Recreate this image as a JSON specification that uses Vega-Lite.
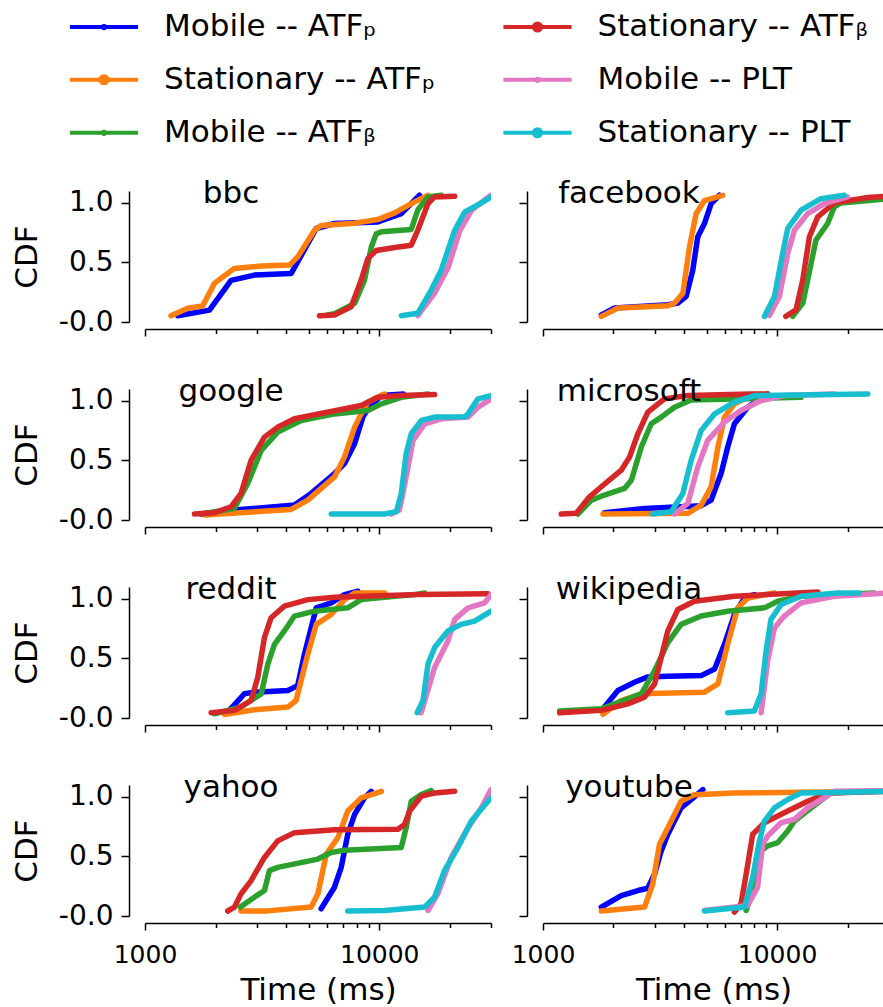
{
  "$schema": "https://vega.github.io/schema/vega-lite/v6.json",
  "padding": {"left": 11, "top": 9, "right": 0, "bottom": 0},
  "datasets": {
    "sites": [{"site": "bbc"}, {"site": "facebook"}, {"site": "google"}, {"site": "microsoft"}, {"site": "reddit"}, {"site": "wikipedia"}, {"site": "yahoo"}, {"site": "youtube"}],
    "curves": [
      {"site":"bbc","series":"Mobile -- ATFₚ","t":1379,"cdf":0.053},{"site":"bbc","series":"Mobile -- ATFₚ","t":1884,"cdf":0.10},{"site":"bbc","series":"Mobile -- ATFₚ","t":2330,"cdf":0.35},{"site":"bbc","series":"Mobile -- ATFₚ","t":2930,"cdf":0.394},{"site":"bbc","series":"Mobile -- ATFₚ","t":4209,"cdf":0.408},{"site":"bbc","series":"Mobile -- ATFₚ","t":5383,"cdf":0.785},{"site":"bbc","series":"Mobile -- ATFₚ","t":6440,"cdf":0.827},{"site":"bbc","series":"Mobile -- ATFₚ","t":9850,"cdf":0.84},{"site":"bbc","series":"Mobile -- ATFₚ","t":12420,"cdf":0.91},{"site":"bbc","series":"Mobile -- ATFₚ","t":14860,"cdf":1.064},
      {"site":"bbc","series":"Stationary -- ATFₚ","t":1291,"cdf":0.053},{"site":"bbc","series":"Stationary -- ATFₚ","t":1521,"cdf":0.115},{"site":"bbc","series":"Stationary -- ATFₚ","t":1763,"cdf":0.134},{"site":"bbc","series":"Stationary -- ATFₚ","t":1977,"cdf":0.324},{"site":"bbc","series":"Stationary -- ATFₚ","t":2405,"cdf":0.45},{"site":"bbc","series":"Stationary -- ATFₚ","t":3135,"cdf":0.47},{"site":"bbc","series":"Stationary -- ATFₚ","t":4140,"cdf":0.478},{"site":"bbc","series":"Stationary -- ATFₚ","t":4487,"cdf":0.547},{"site":"bbc","series":"Stationary -- ATFₚ","t":5293,"cdf":0.77},{"site":"bbc","series":"Stationary -- ATFₚ","t":5650,"cdf":0.81},{"site":"bbc","series":"Stationary -- ATFₚ","t":7850,"cdf":0.83},{"site":"bbc","series":"Stationary -- ATFₚ","t":9850,"cdf":0.86},{"site":"bbc","series":"Stationary -- ATFₚ","t":11640,"cdf":0.916},{"site":"bbc","series":"Stationary -- ATFₚ","t":13700,"cdf":0.994},{"site":"bbc","series":"Stationary -- ATFₚ","t":16150,"cdf":1.064},
      {"site":"bbc","series":"Mobile -- ATFᵦ","t":6000,"cdf":0.06},{"site":"bbc","series":"Mobile -- ATFᵦ","t":6440,"cdf":0.07},{"site":"bbc","series":"Mobile -- ATFᵦ","t":7850,"cdf":0.156},{"site":"bbc","series":"Mobile -- ATFᵦ","t":8650,"cdf":0.352},{"site":"bbc","series":"Mobile -- ATFᵦ","t":9250,"cdf":0.63},{"site":"bbc","series":"Mobile -- ATFᵦ","t":9700,"cdf":0.74},{"site":"bbc","series":"Mobile -- ATFᵦ","t":10200,"cdf":0.757},{"site":"bbc","series":"Mobile -- ATFᵦ","t":13700,"cdf":0.777},{"site":"bbc","series":"Mobile -- ATFᵦ","t":14600,"cdf":0.94},{"site":"bbc","series":"Mobile -- ATFᵦ","t":16150,"cdf":1.05},{"site":"bbc","series":"Mobile -- ATFᵦ","t":18400,"cdf":1.064},
      {"site":"bbc","series":"Stationary -- ATFᵦ","t":5557,"cdf":0.053},{"site":"bbc","series":"Stationary -- ATFᵦ","t":6440,"cdf":0.059},{"site":"bbc","series":"Stationary -- ATFᵦ","t":7590,"cdf":0.128},{"site":"bbc","series":"Stationary -- ATFᵦ","t":8375,"cdf":0.352},{"site":"bbc","series":"Stationary -- ATFᵦ","t":8950,"cdf":0.534},{"site":"bbc","series":"Stationary -- ATFᵦ","t":9700,"cdf":0.60},{"site":"bbc","series":"Stationary -- ATFᵦ","t":11640,"cdf":0.626},{"site":"bbc","series":"Stationary -- ATFᵦ","t":13700,"cdf":0.645},{"site":"bbc","series":"Stationary -- ATFᵦ","t":14600,"cdf":0.77},{"site":"bbc","series":"Stationary -- ATFᵦ","t":16150,"cdf":0.994},{"site":"bbc","series":"Stationary -- ATFᵦ","t":17200,"cdf":1.05},{"site":"bbc","series":"Stationary -- ATFᵦ","t":20990,"cdf":1.056},
      {"site":"bbc","series":"Mobile -- PLT","t":14600,"cdf":0.053},{"site":"bbc","series":"Mobile -- PLT","t":17200,"cdf":0.24},{"site":"bbc","series":"Mobile -- PLT","t":19700,"cdf":0.46},{"site":"bbc","series":"Mobile -- PLT","t":22100,"cdf":0.77},{"site":"bbc","series":"Mobile -- PLT","t":24800,"cdf":0.94},{"site":"bbc","series":"Mobile -- PLT","t":30000,"cdf":1.064},
      {"site":"bbc","series":"Stationary -- PLT","t":12420,"cdf":0.053},{"site":"bbc","series":"Stationary -- PLT","t":14600,"cdf":0.073},{"site":"bbc","series":"Stationary -- PLT","t":16670,"cdf":0.268},{"site":"bbc","series":"Stationary -- PLT","t":18400,"cdf":0.436},{"site":"bbc","series":"Stationary -- PLT","t":20990,"cdf":0.77},{"site":"bbc","series":"Stationary -- PLT","t":23200,"cdf":0.925},{"site":"bbc","series":"Stationary -- PLT","t":27300,"cdf":1.0},{"site":"bbc","series":"Stationary -- PLT","t":30000,"cdf":1.05},

      {"site":"facebook","series":"Mobile -- ATFₚ","t":1775,"cdf":0.06},{"site":"facebook","series":"Mobile -- ATFₚ","t":2023,"cdf":0.117},{"site":"facebook","series":"Mobile -- ATFₚ","t":3415,"cdf":0.145},{"site":"facebook","series":"Mobile -- ATFₚ","t":3767,"cdf":0.159},{"site":"facebook","series":"Mobile -- ATFₚ","t":4090,"cdf":0.215},{"site":"facebook","series":"Mobile -- ATFₚ","t":4366,"cdf":0.437},{"site":"facebook","series":"Mobile -- ATFₚ","t":4584,"cdf":0.716},{"site":"facebook","series":"Mobile -- ATFₚ","t":4896,"cdf":0.827},{"site":"facebook","series":"Mobile -- ATFₚ","t":5228,"cdf":0.994},{"site":"facebook","series":"Mobile -- ATFₚ","t":5675,"cdf":1.064},
      {"site":"facebook","series":"Stationary -- ATFₚ","t":1775,"cdf":0.047},{"site":"facebook","series":"Stationary -- ATFₚ","t":2090,"cdf":0.117},{"site":"facebook","series":"Stationary -- ATFₚ","t":3415,"cdf":0.136},{"site":"facebook","series":"Stationary -- ATFₚ","t":3650,"cdf":0.159},{"site":"facebook","series":"Stationary -- ATFₚ","t":3960,"cdf":0.242},{"site":"facebook","series":"Stationary -- ATFₚ","t":4227,"cdf":0.632},{"site":"facebook","series":"Stationary -- ATFₚ","t":4510,"cdf":0.91},{"site":"facebook","series":"Stationary -- ATFₚ","t":4896,"cdf":1.02},{"site":"facebook","series":"Stationary -- ATFₚ","t":5860,"cdf":1.064},
      {"site":"facebook","series":"Mobile -- ATFᵦ","t":11660,"cdf":0.047},{"site":"facebook","series":"Mobile -- ATFᵦ","t":12880,"cdf":0.159},{"site":"facebook","series":"Mobile -- ATFᵦ","t":13520,"cdf":0.354},{"site":"facebook","series":"Mobile -- ATFᵦ","t":14660,"cdf":0.688},{"site":"facebook","series":"Mobile -- ATFᵦ","t":16450,"cdf":0.827},{"site":"facebook","series":"Mobile -- ATFᵦ","t":17570,"cdf":0.967},{"site":"facebook","series":"Mobile -- ATFᵦ","t":18750,"cdf":1.0},{"site":"facebook","series":"Mobile -- ATFᵦ","t":30000,"cdf":1.036},
      {"site":"facebook","series":"Stationary -- ATFᵦ","t":10900,"cdf":0.047},{"site":"facebook","series":"Stationary -- ATFᵦ","t":12050,"cdf":0.103},{"site":"facebook","series":"Stationary -- ATFᵦ","t":12880,"cdf":0.354},{"site":"facebook","series":"Stationary -- ATFᵦ","t":13750,"cdf":0.716},{"site":"facebook","series":"Stationary -- ATFᵦ","t":14920,"cdf":0.883},{"site":"facebook","series":"Stationary -- ATFᵦ","t":16450,"cdf":0.953},{"site":"facebook","series":"Stationary -- ATFᵦ","t":17570,"cdf":1.0},{"site":"facebook","series":"Stationary -- ATFᵦ","t":24400,"cdf":1.045},{"site":"facebook","series":"Stationary -- ATFᵦ","t":30000,"cdf":1.056},
      {"site":"facebook","series":"Mobile -- PLT","t":9270,"cdf":0.055},{"site":"facebook","series":"Mobile -- PLT","t":10230,"cdf":0.215},{"site":"facebook","series":"Mobile -- PLT","t":11110,"cdf":0.577},{"site":"facebook","series":"Mobile -- PLT","t":11860,"cdf":0.77},{"site":"facebook","series":"Mobile -- PLT","t":13520,"cdf":0.91},{"site":"facebook","series":"Mobile -- PLT","t":15920,"cdf":0.994},{"site":"facebook","series":"Mobile -- PLT","t":20000,"cdf":1.05},
      {"site":"facebook","series":"Stationary -- PLT","t":8830,"cdf":0.047},{"site":"facebook","series":"Stationary -- PLT","t":9750,"cdf":0.215},{"site":"facebook","series":"Stationary -- PLT","t":10570,"cdf":0.577},{"site":"facebook","series":"Stationary -- PLT","t":11110,"cdf":0.786},{"site":"facebook","series":"Stationary -- PLT","t":12660,"cdf":0.94},{"site":"facebook","series":"Stationary -- PLT","t":15400,"cdf":1.036},{"site":"facebook","series":"Stationary -- PLT","t":19370,"cdf":1.064},

      {"site":"google","series":"Mobile -- ATFₚ","t":1735,"cdf":0.05},{"site":"google","series":"Mobile -- ATFₚ","t":2405,"cdf":0.084},{"site":"google","series":"Mobile -- ATFₚ","t":4345,"cdf":0.125},{"site":"google","series":"Mobile -- ATFₚ","t":5120,"cdf":0.223},{"site":"google","series":"Mobile -- ATFₚ","t":6440,"cdf":0.39},{"site":"google","series":"Mobile -- ATFₚ","t":7110,"cdf":0.474},{"site":"google","series":"Mobile -- ATFₚ","t":7850,"cdf":0.64},{"site":"google","series":"Mobile -- ATFₚ","t":8510,"cdf":0.864},{"site":"google","series":"Mobile -- ATFₚ","t":8950,"cdf":0.933},{"site":"google","series":"Mobile -- ATFₚ","t":10200,"cdf":1.045},{"site":"google","series":"Mobile -- ATFₚ","t":12700,"cdf":1.058},
      {"site":"google","series":"Stationary -- ATFₚ","t":1795,"cdf":0.042},{"site":"google","series":"Stationary -- ATFₚ","t":4210,"cdf":0.089},{"site":"google","series":"Stationary -- ATFₚ","t":4955,"cdf":0.167},{"site":"google","series":"Stationary -- ATFₚ","t":6440,"cdf":0.362},{"site":"google","series":"Stationary -- ATFₚ","t":7110,"cdf":0.53},{"site":"google","series":"Stationary -- ATFₚ","t":7850,"cdf":0.78},{"site":"google","series":"Stationary -- ATFₚ","t":8375,"cdf":0.891},{"site":"google","series":"Stationary -- ATFₚ","t":8950,"cdf":0.99},{"site":"google","series":"Stationary -- ATFₚ","t":10540,"cdf":1.058},
      {"site":"google","series":"Mobile -- ATFᵦ","t":1735,"cdf":0.05},{"site":"google","series":"Mobile -- ATFᵦ","t":2405,"cdf":0.097},{"site":"google","series":"Mobile -- ATFᵦ","t":2745,"cdf":0.306},{"site":"google","series":"Mobile -- ATFᵦ","t":3135,"cdf":0.585},{"site":"google","series":"Mobile -- ATFᵦ","t":3686,"cdf":0.738},{"site":"google","series":"Mobile -- ATFᵦ","t":4642,"cdf":0.836},{"site":"google","series":"Mobile -- ATFᵦ","t":6440,"cdf":0.891},{"site":"google","series":"Mobile -- ATFᵦ","t":8950,"cdf":0.919},{"site":"google","series":"Mobile -- ATFᵦ","t":10200,"cdf":0.975},{"site":"google","series":"Mobile -- ATFᵦ","t":12420,"cdf":1.03},{"site":"google","series":"Mobile -- ATFᵦ","t":16150,"cdf":1.058},
      {"site":"google","series":"Stationary -- ATFᵦ","t":1625,"cdf":0.05},{"site":"google","series":"Stationary -- ATFᵦ","t":1977,"cdf":0.061},{"site":"google","series":"Stationary -- ATFᵦ","t":2330,"cdf":0.111},{"site":"google","series":"Stationary -- ATFᵦ","t":2570,"cdf":0.223},{"site":"google","series":"Stationary -- ATFᵦ","t":2837,"cdf":0.501},{"site":"google","series":"Stationary -- ATFᵦ","t":3235,"cdf":0.696},{"site":"google","series":"Stationary -- ATFᵦ","t":3686,"cdf":0.78},{"site":"google","series":"Stationary -- ATFᵦ","t":4345,"cdf":0.85},{"site":"google","series":"Stationary -- ATFᵦ","t":6000,"cdf":0.905},{"site":"google","series":"Stationary -- ATFᵦ","t":8375,"cdf":0.961},{"site":"google","series":"Stationary -- ATFᵦ","t":9850,"cdf":1.03},{"site":"google","series":"Stationary -- ATFᵦ","t":12420,"cdf":1.045},{"site":"google","series":"Stationary -- ATFᵦ","t":17220,"cdf":1.053},
      {"site":"google","series":"Mobile -- PLT","t":11260,"cdf":0.05},{"site":"google","series":"Mobile -- PLT","t":12200,"cdf":0.084},{"site":"google","series":"Mobile -- PLT","t":13030,"cdf":0.362},{"site":"google","series":"Mobile -- PLT","t":13930,"cdf":0.668},{"site":"google","series":"Mobile -- PLT","t":15660,"cdf":0.808},{"site":"google","series":"Mobile -- PLT","t":18400,"cdf":0.85},{"site":"google","series":"Mobile -- PLT","t":23950,"cdf":0.864},{"site":"google","series":"Mobile -- PLT","t":26400,"cdf":0.947},{"site":"google","series":"Mobile -- PLT","t":30000,"cdf":1.017},
      {"site":"google","series":"Stationary -- PLT","t":6240,"cdf":0.05},{"site":"google","series":"Stationary -- PLT","t":10540,"cdf":0.05},{"site":"google","series":"Stationary -- PLT","t":11840,"cdf":0.07},{"site":"google","series":"Stationary -- PLT","t":12420,"cdf":0.223},{"site":"google","series":"Stationary -- PLT","t":13030,"cdf":0.557},{"site":"google","series":"Stationary -- PLT","t":13700,"cdf":0.724},{"site":"google","series":"Stationary -- PLT","t":15140,"cdf":0.836},{"site":"google","series":"Stationary -- PLT","t":17200,"cdf":0.864},{"site":"google","series":"Stationary -- PLT","t":23200,"cdf":0.866},{"site":"google","series":"Stationary -- PLT","t":23950,"cdf":0.891},{"site":"google","series":"Stationary -- PLT","t":26400,"cdf":1.017},{"site":"google","series":"Stationary -- PLT","t":30000,"cdf":1.045},

      {"site":"microsoft","series":"Mobile -- ATFₚ","t":1832,"cdf":0.061},{"site":"microsoft","series":"Mobile -- ATFₚ","t":2716,"cdf":0.097},{"site":"microsoft","series":"Mobile -- ATFₚ","t":4740,"cdf":0.12},{"site":"microsoft","series":"Mobile -- ATFₚ","t":5230,"cdf":0.167},{"site":"microsoft","series":"Mobile -- ATFₚ","t":5765,"cdf":0.39},{"site":"microsoft","series":"Mobile -- ATFₚ","t":6155,"cdf":0.613},{"site":"microsoft","series":"Mobile -- ATFₚ","t":6575,"cdf":0.808},{"site":"microsoft","series":"Mobile -- ATFₚ","t":7495,"cdf":0.947},{"site":"microsoft","series":"Mobile -- ATFₚ","t":8545,"cdf":1.03},{"site":"microsoft","series":"Mobile -- ATFₚ","t":9120,"cdf":1.058},
      {"site":"microsoft","series":"Stationary -- ATFₚ","t":1803,"cdf":0.05},{"site":"microsoft","series":"Stationary -- ATFₚ","t":4155,"cdf":0.056},{"site":"microsoft","series":"Stationary -- ATFₚ","t":4740,"cdf":0.125},{"site":"microsoft","series":"Stationary -- ATFₚ","t":5230,"cdf":0.279},{"site":"microsoft","series":"Stationary -- ATFₚ","t":5590,"cdf":0.613},{"site":"microsoft","series":"Stationary -- ATFₚ","t":5960,"cdf":0.864},{"site":"microsoft","series":"Stationary -- ATFₚ","t":6575,"cdf":0.975},{"site":"microsoft","series":"Stationary -- ATFₚ","t":7495,"cdf":1.03},{"site":"microsoft","series":"Stationary -- ATFₚ","t":8545,"cdf":1.058},
      {"site":"microsoft","series":"Mobile -- ATFᵦ","t":1410,"cdf":0.05},{"site":"microsoft","series":"Mobile -- ATFᵦ","t":1610,"cdf":0.167},{"site":"microsoft","series":"Mobile -- ATFᵦ","t":1775,"cdf":0.2},{"site":"microsoft","series":"Mobile -- ATFᵦ","t":2230,"cdf":0.265},{"site":"microsoft","series":"Mobile -- ATFᵦ","t":2385,"cdf":0.334},{"site":"microsoft","series":"Mobile -- ATFᵦ","t":2630,"cdf":0.613},{"site":"microsoft","series":"Mobile -- ATFᵦ","t":2900,"cdf":0.808},{"site":"microsoft","series":"Mobile -- ATFᵦ","t":3200,"cdf":0.864},{"site":"microsoft","series":"Mobile -- ATFᵦ","t":3645,"cdf":0.947},{"site":"microsoft","series":"Mobile -- ATFᵦ","t":4295,"cdf":1.008},{"site":"microsoft","series":"Mobile -- ATFᵦ","t":6580,"cdf":1.017},{"site":"microsoft","series":"Mobile -- ATFᵦ","t":12650,"cdf":1.03},
      {"site":"microsoft","series":"Stationary -- ATFᵦ","t":1197,"cdf":0.05},{"site":"microsoft","series":"Stationary -- ATFᵦ","t":1387,"cdf":0.056},{"site":"microsoft","series":"Stationary -- ATFᵦ","t":1580,"cdf":0.195},{"site":"microsoft","series":"Stationary -- ATFᵦ","t":1775,"cdf":0.279},{"site":"microsoft","series":"Stationary -- ATFᵦ","t":2160,"cdf":0.418},{"site":"microsoft","series":"Stationary -- ATFᵦ","t":2345,"cdf":0.53},{"site":"microsoft","series":"Stationary -- ATFᵦ","t":2543,"cdf":0.724},{"site":"microsoft","series":"Stationary -- ATFᵦ","t":2804,"cdf":0.905},{"site":"microsoft","series":"Stationary -- ATFᵦ","t":3303,"cdf":1.017},{"site":"microsoft","series":"Stationary -- ATFᵦ","t":4155,"cdf":1.045},{"site":"microsoft","series":"Stationary -- ATFᵦ","t":7740,"cdf":1.058},{"site":"microsoft","series":"Stationary -- ATFᵦ","t":9120,"cdf":1.058},
      {"site":"microsoft","series":"Mobile -- PLT","t":3645,"cdf":0.05},{"site":"microsoft","series":"Mobile -- PLT","t":4155,"cdf":0.139},{"site":"microsoft","series":"Mobile -- PLT","t":4585,"cdf":0.446},{"site":"microsoft","series":"Mobile -- PLT","t":5055,"cdf":0.668},{"site":"microsoft","series":"Mobile -- PLT","t":5960,"cdf":0.822},{"site":"microsoft","series":"Mobile -- PLT","t":7015,"cdf":0.919},{"site":"microsoft","series":"Mobile -- PLT","t":8545,"cdf":1.003},{"site":"microsoft","series":"Mobile -- PLT","t":10740,"cdf":1.045},{"site":"microsoft","series":"Mobile -- PLT","t":17570,"cdf":1.058},
      {"site":"microsoft","series":"Stationary -- PLT","t":2944,"cdf":0.05},{"site":"microsoft","series":"Stationary -- PLT","t":3530,"cdf":0.07},{"site":"microsoft","series":"Stationary -- PLT","t":3960,"cdf":0.223},{"site":"microsoft","series":"Stationary -- PLT","t":4295,"cdf":0.501},{"site":"microsoft","series":"Stationary -- PLT","t":4740,"cdf":0.752},{"site":"microsoft","series":"Stationary -- PLT","t":5410,"cdf":0.891},{"site":"microsoft","series":"Stationary -- PLT","t":6575,"cdf":0.989},{"site":"microsoft","series":"Stationary -- PLT","t":8000,"cdf":1.045},{"site":"microsoft","series":"Stationary -- PLT","t":24400,"cdf":1.058},

      {"site":"reddit","series":"Mobile -- ATFₚ","t":2254,"cdf":0.05},{"site":"reddit","series":"Mobile -- ATFₚ","t":2655,"cdf":0.203},{"site":"reddit","series":"Mobile -- ATFₚ","t":2930,"cdf":0.217},{"site":"reddit","series":"Mobile -- ATFₚ","t":4070,"cdf":0.231},{"site":"reddit","series":"Mobile -- ATFₚ","t":4487,"cdf":0.272},{"site":"reddit","series":"Mobile -- ATFₚ","t":4795,"cdf":0.536},{"site":"reddit","series":"Mobile -- ATFₚ","t":5383,"cdf":0.925},{"site":"reddit","series":"Mobile -- ATFₚ","t":6235,"cdf":0.967},{"site":"reddit","series":"Mobile -- ATFₚ","t":7110,"cdf":1.036},{"site":"reddit","series":"Mobile -- ATFₚ","t":8110,"cdf":1.064},
      {"site":"reddit","series":"Stationary -- ATFₚ","t":2183,"cdf":0.03},{"site":"reddit","series":"Stationary -- ATFₚ","t":2930,"cdf":0.069},{"site":"reddit","series":"Stationary -- ATFₚ","t":4070,"cdf":0.092},{"site":"reddit","series":"Stationary -- ATFₚ","t":4415,"cdf":0.147},{"site":"reddit","series":"Stationary -- ATFₚ","t":4955,"cdf":0.536},{"site":"reddit","series":"Stationary -- ATFₚ","t":5383,"cdf":0.786},{"site":"reddit","series":"Stationary -- ATFₚ","t":6235,"cdf":0.869},{"site":"reddit","series":"Stationary -- ATFₚ","t":7110,"cdf":0.994},{"site":"reddit","series":"Stationary -- ATFₚ","t":7850,"cdf":1.05},{"site":"reddit","series":"Stationary -- ATFₚ","t":10540,"cdf":1.05},
      {"site":"reddit","series":"Mobile -- ATFᵦ","t":1977,"cdf":0.036},{"site":"reddit","series":"Mobile -- ATFᵦ","t":2570,"cdf":0.092},{"site":"reddit","series":"Mobile -- ATFᵦ","t":3135,"cdf":0.203},{"site":"reddit","series":"Mobile -- ATFᵦ","t":3345,"cdf":0.453},{"site":"reddit","series":"Mobile -- ATFᵦ","t":3570,"cdf":0.619},{"site":"reddit","series":"Mobile -- ATFᵦ","t":3935,"cdf":0.731},{"site":"reddit","series":"Mobile -- ATFᵦ","t":4345,"cdf":0.856},{"site":"reddit","series":"Mobile -- ATFᵦ","t":5293,"cdf":0.897},{"site":"reddit","series":"Mobile -- ATFᵦ","t":7340,"cdf":0.925},{"site":"reddit","series":"Mobile -- ATFᵦ","t":8375,"cdf":0.994},{"site":"reddit","series":"Mobile -- ATFᵦ","t":10540,"cdf":1.014},{"site":"reddit","series":"Mobile -- ATFᵦ","t":14170,"cdf":1.036},{"site":"reddit","series":"Mobile -- ATFᵦ","t":15630,"cdf":1.05},
      {"site":"reddit","series":"Stationary -- ATFᵦ","t":1915,"cdf":0.044},{"site":"reddit","series":"Stationary -- ATFᵦ","t":2410,"cdf":0.064},{"site":"reddit","series":"Stationary -- ATFᵦ","t":2838,"cdf":0.147},{"site":"reddit","series":"Stationary -- ATFᵦ","t":3030,"cdf":0.342},{"site":"reddit","series":"Stationary -- ATFᵦ","t":3235,"cdf":0.675},{"site":"reddit","series":"Stationary -- ATFᵦ","t":3455,"cdf":0.842},{"site":"reddit","series":"Stationary -- ATFᵦ","t":3935,"cdf":0.939},{"site":"reddit","series":"Stationary -- ATFᵦ","t":4955,"cdf":0.994},{"site":"reddit","series":"Stationary -- ATFᵦ","t":6440,"cdf":1.014},{"site":"reddit","series":"Stationary -- ATFᵦ","t":14600,"cdf":1.036},{"site":"reddit","series":"Stationary -- ATFᵦ","t":29100,"cdf":1.044},
      {"site":"reddit","series":"Mobile -- PLT","t":15100,"cdf":0.044},{"site":"reddit","series":"Mobile -- PLT","t":17230,"cdf":0.425},{"site":"reddit","series":"Mobile -- PLT","t":19630,"cdf":0.647},{"site":"reddit","series":"Mobile -- PLT","t":21000,"cdf":0.828},{"site":"reddit","series":"Mobile -- PLT","t":23950,"cdf":0.925},{"site":"reddit","series":"Mobile -- PLT","t":28190,"cdf":0.967},{"site":"reddit","series":"Mobile -- PLT","t":30000,"cdf":1.036},
      {"site":"reddit","series":"Stationary -- PLT","t":14520,"cdf":0.044},{"site":"reddit","series":"Stationary -- PLT","t":15380,"cdf":0.147},{"site":"reddit","series":"Stationary -- PLT","t":16150,"cdf":0.453},{"site":"reddit","series":"Stationary -- PLT","t":17230,"cdf":0.592},{"site":"reddit","series":"Stationary -- PLT","t":19630,"cdf":0.731},{"site":"reddit","series":"Stationary -- PLT","t":22390,"cdf":0.786},{"site":"reddit","series":"Stationary -- PLT","t":25530,"cdf":0.814},{"site":"reddit","series":"Stationary -- PLT","t":30000,"cdf":0.897},

      {"site":"wikipedia","series":"Mobile -- ATFₚ","t":1803,"cdf":0.078},{"site":"wikipedia","series":"Mobile -- ATFₚ","t":2090,"cdf":0.231},{"site":"wikipedia","series":"Mobile -- ATFₚ","t":2460,"cdf":0.3},{"site":"wikipedia","series":"Mobile -- ATFₚ","t":2804,"cdf":0.345},{"site":"wikipedia","series":"Mobile -- ATFₚ","t":3415,"cdf":0.35},{"site":"wikipedia","series":"Mobile -- ATFₚ","t":4740,"cdf":0.356},{"site":"wikipedia","series":"Mobile -- ATFₚ","t":5410,"cdf":0.411},{"site":"wikipedia","series":"Mobile -- ATFₚ","t":5960,"cdf":0.619},{"site":"wikipedia","series":"Mobile -- ATFₚ","t":6575,"cdf":0.869},{"site":"wikipedia","series":"Mobile -- ATFₚ","t":7260,"cdf":1.008},{"site":"wikipedia","series":"Mobile -- ATFₚ","t":8000,"cdf":1.036},
      {"site":"wikipedia","series":"Stationary -- ATFₚ","t":1803,"cdf":0.03},{"site":"wikipedia","series":"Stationary -- ATFₚ","t":2160,"cdf":0.147},{"site":"wikipedia","series":"Stationary -- ATFₚ","t":2630,"cdf":0.203},{"site":"wikipedia","series":"Stationary -- ATFₚ","t":3200,"cdf":0.208},{"site":"wikipedia","series":"Stationary -- ATFₚ","t":4895,"cdf":0.217},{"site":"wikipedia","series":"Stationary -- ATFₚ","t":5590,"cdf":0.286},{"site":"wikipedia","series":"Stationary -- ATFₚ","t":6150,"cdf":0.619},{"site":"wikipedia","series":"Stationary -- ATFₚ","t":6790,"cdf":0.925},{"site":"wikipedia","series":"Stationary -- ATFₚ","t":7495,"cdf":1.008},{"site":"wikipedia","series":"Stationary -- ATFₚ","t":9750,"cdf":1.05},
      {"site":"wikipedia","series":"Mobile -- ATFᵦ","t":1178,"cdf":0.058},{"site":"wikipedia","series":"Mobile -- ATFᵦ","t":1775,"cdf":0.078},{"site":"wikipedia","series":"Mobile -- ATFᵦ","t":2630,"cdf":0.203},{"site":"wikipedia","series":"Mobile -- ATFᵦ","t":2999,"cdf":0.397},{"site":"wikipedia","series":"Mobile -- ATFᵦ","t":3415,"cdf":0.633},{"site":"wikipedia","series":"Mobile -- ATFᵦ","t":3890,"cdf":0.786},{"site":"wikipedia","series":"Mobile -- ATFᵦ","t":4740,"cdf":0.856},{"site":"wikipedia","series":"Mobile -- ATFᵦ","t":6150,"cdf":0.897},{"site":"wikipedia","series":"Mobile -- ATFᵦ","t":8830,"cdf":0.925},{"site":"wikipedia","series":"Mobile -- ATFᵦ","t":10070,"cdf":0.981},{"site":"wikipedia","series":"Mobile -- ATFᵦ","t":12650,"cdf":1.022},{"site":"wikipedia","series":"Mobile -- ATFᵦ","t":26000,"cdf":1.05},
      {"site":"wikipedia","series":"Stationary -- ATFᵦ","t":1178,"cdf":0.044},{"site":"wikipedia","series":"Stationary -- ATFᵦ","t":1775,"cdf":0.064},{"site":"wikipedia","series":"Stationary -- ATFᵦ","t":2305,"cdf":0.119},{"site":"wikipedia","series":"Stationary -- ATFᵦ","t":2716,"cdf":0.175},{"site":"wikipedia","series":"Stationary -- ATFᵦ","t":2999,"cdf":0.286},{"site":"wikipedia","series":"Stationary -- ATFᵦ","t":3200,"cdf":0.508},{"site":"wikipedia","series":"Stationary -- ATFᵦ","t":3415,"cdf":0.731},{"site":"wikipedia","series":"Stationary -- ATFᵦ","t":3767,"cdf":0.911},{"site":"wikipedia","series":"Stationary -- ATFᵦ","t":4435,"cdf":0.981},{"site":"wikipedia","series":"Stationary -- ATFᵦ","t":6575,"cdf":1.022},{"site":"wikipedia","series":"Stationary -- ATFᵦ","t":14930,"cdf":1.058},
      {"site":"wikipedia","series":"Mobile -- PLT","t":8550,"cdf":0.044},{"site":"wikipedia","series":"Mobile -- PLT","t":9120,"cdf":0.481},{"site":"wikipedia","series":"Mobile -- PLT","t":9750,"cdf":0.758},{"site":"wikipedia","series":"Mobile -- PLT","t":10740,"cdf":0.856},{"site":"wikipedia","series":"Mobile -- PLT","t":12650,"cdf":0.967},{"site":"wikipedia","series":"Mobile -- PLT","t":17570,"cdf":1.022},{"site":"wikipedia","series":"Mobile -- PLT","t":30000,"cdf":1.05},
      {"site":"wikipedia","series":"Stationary -- PLT","t":6150,"cdf":0.044},{"site":"wikipedia","series":"Stationary -- PLT","t":8000,"cdf":0.058},{"site":"wikipedia","series":"Stationary -- PLT","t":8550,"cdf":0.203},{"site":"wikipedia","series":"Stationary -- PLT","t":8980,"cdf":0.564},{"site":"wikipedia","series":"Stationary -- PLT","t":9420,"cdf":0.828},{"site":"wikipedia","series":"Stationary -- PLT","t":10400,"cdf":0.953},{"site":"wikipedia","series":"Stationary -- PLT","t":12650,"cdf":1.022},{"site":"wikipedia","series":"Stationary -- PLT","t":18150,"cdf":1.05},{"site":"wikipedia","series":"Stationary -- PLT","t":22430,"cdf":1.05},

      {"site":"yahoo","series":"Mobile -- ATFₚ","t":5650,"cdf":0.061},{"site":"yahoo","series":"Mobile -- ATFₚ","t":6440,"cdf":0.242},{"site":"yahoo","series":"Mobile -- ATFₚ","t":6880,"cdf":0.408},{"site":"yahoo","series":"Mobile -- ATFₚ","t":7340,"cdf":0.686},{"site":"yahoo","series":"Mobile -- ATFₚ","t":7850,"cdf":0.853},{"site":"yahoo","series":"Mobile -- ATFₚ","t":8650,"cdf":0.992},{"site":"yahoo","series":"Mobile -- ATFₚ","t":9250,"cdf":1.047},
      {"site":"yahoo","series":"Stationary -- ATFₚ","t":2570,"cdf":0.042},{"site":"yahoo","series":"Stationary -- ATFₚ","t":3340,"cdf":0.043},{"site":"yahoo","series":"Stationary -- ATFₚ","t":5120,"cdf":0.075},{"site":"yahoo","series":"Stationary -- ATFₚ","t":5470,"cdf":0.186},{"site":"yahoo","series":"Stationary -- ATFₚ","t":5940,"cdf":0.519},{"site":"yahoo","series":"Stationary -- ATFₚ","t":6660,"cdf":0.658},{"site":"yahoo","series":"Stationary -- ATFₚ","t":7340,"cdf":0.881},{"site":"yahoo","series":"Stationary -- ATFₚ","t":8375,"cdf":0.992},{"site":"yahoo","series":"Stationary -- ATFₚ","t":10210,"cdf":1.047},
      {"site":"yahoo","series":"Mobile -- ATFᵦ","t":2553,"cdf":0.075},{"site":"yahoo","series":"Mobile -- ATFᵦ","t":2930,"cdf":0.158},{"site":"yahoo","series":"Mobile -- ATFᵦ","t":3235,"cdf":0.214},{"site":"yahoo","series":"Mobile -- ATFᵦ","t":3398,"cdf":0.381},{"site":"yahoo","series":"Mobile -- ATFᵦ","t":3686,"cdf":0.408},{"site":"yahoo","series":"Mobile -- ATFᵦ","t":5470,"cdf":0.478},{"site":"yahoo","series":"Mobile -- ATFᵦ","t":6235,"cdf":0.533},{"site":"yahoo","series":"Mobile -- ATFᵦ","t":7110,"cdf":0.553},{"site":"yahoo","series":"Mobile -- ATFᵦ","t":12420,"cdf":0.575},{"site":"yahoo","series":"Mobile -- ATFᵦ","t":13030,"cdf":0.742},{"site":"yahoo","series":"Mobile -- ATFᵦ","t":13700,"cdf":0.964},{"site":"yahoo","series":"Mobile -- ATFᵦ","t":15100,"cdf":1.019},{"site":"yahoo","series":"Mobile -- ATFᵦ","t":16660,"cdf":1.053},
      {"site":"yahoo","series":"Stationary -- ATFᵦ","t":2254,"cdf":0.042},{"site":"yahoo","series":"Stationary -- ATFᵦ","t":2410,"cdf":0.075},{"site":"yahoo","series":"Stationary -- ATFᵦ","t":2570,"cdf":0.186},{"site":"yahoo","series":"Stationary -- ATFᵦ","t":2838,"cdf":0.297},{"site":"yahoo","series":"Stationary -- ATFᵦ","t":3235,"cdf":0.492},{"site":"yahoo","series":"Stationary -- ATFᵦ","t":3686,"cdf":0.631},{"site":"yahoo","series":"Stationary -- ATFᵦ","t":4345,"cdf":0.7},{"site":"yahoo","series":"Stationary -- ATFᵦ","t":6440,"cdf":0.725},{"site":"yahoo","series":"Stationary -- ATFᵦ","t":12030,"cdf":0.728},{"site":"yahoo","series":"Stationary -- ATFᵦ","t":12830,"cdf":0.769},{"site":"yahoo","series":"Stationary -- ATFᵦ","t":13480,"cdf":0.881},{"site":"yahoo","series":"Stationary -- ATFᵦ","t":15100,"cdf":1.006},{"site":"yahoo","series":"Stationary -- ATFᵦ","t":17220,"cdf":1.033},{"site":"yahoo","series":"Stationary -- ATFᵦ","t":20990,"cdf":1.047},
      {"site":"yahoo","series":"Mobile -- PLT","t":16150,"cdf":0.047},{"site":"yahoo","series":"Mobile -- PLT","t":17780,"cdf":0.186},{"site":"yahoo","series":"Mobile -- PLT","t":20300,"cdf":0.492},{"site":"yahoo","series":"Mobile -- PLT","t":23950,"cdf":0.742},{"site":"yahoo","series":"Mobile -- PLT","t":27300,"cdf":0.908},{"site":"yahoo","series":"Mobile -- PLT","t":30000,"cdf":1.061},
      {"site":"yahoo","series":"Stationary -- PLT","t":7340,"cdf":0.042},{"site":"yahoo","series":"Stationary -- PLT","t":10540,"cdf":0.047},{"site":"yahoo","series":"Stationary -- PLT","t":15630,"cdf":0.075},{"site":"yahoo","series":"Stationary -- PLT","t":17220,"cdf":0.158},{"site":"yahoo","series":"Stationary -- PLT","t":18990,"cdf":0.381},{"site":"yahoo","series":"Stationary -- PLT","t":21670,"cdf":0.575},{"site":"yahoo","series":"Stationary -- PLT","t":24730,"cdf":0.797},{"site":"yahoo","series":"Stationary -- PLT","t":30000,"cdf":0.992},

      {"site":"youtube","series":"Mobile -- ATFₚ","t":1775,"cdf":0.075},{"site":"youtube","series":"Mobile -- ATFₚ","t":2160,"cdf":0.172},{"site":"youtube","series":"Mobile -- ATFₚ","t":2543,"cdf":0.214},{"site":"youtube","series":"Mobile -- ATFₚ","t":2804,"cdf":0.233},{"site":"youtube","series":"Mobile -- ATFₚ","t":2999,"cdf":0.353},{"site":"youtube","series":"Mobile -- ATFₚ","t":3200,"cdf":0.547},{"site":"youtube","series":"Mobile -- ATFₚ","t":3415,"cdf":0.686},{"site":"youtube","series":"Mobile -- ATFₚ","t":3890,"cdf":0.908},{"site":"youtube","series":"Mobile -- ATFₚ","t":4295,"cdf":0.978},{"site":"youtube","series":"Mobile -- ATFₚ","t":4820,"cdf":1.061},
      {"site":"youtube","series":"Stationary -- ATFₚ","t":1775,"cdf":0.042},{"site":"youtube","series":"Stationary -- ATFₚ","t":2716,"cdf":0.075},{"site":"youtube","series":"Stationary -- ATFₚ","t":2944,"cdf":0.269},{"site":"youtube","series":"Stationary -- ATFₚ","t":3145,"cdf":0.603},{"site":"youtube","series":"Stationary -- ATFₚ","t":3415,"cdf":0.742},{"site":"youtube","series":"Stationary -- ATFₚ","t":3890,"cdf":0.964},{"site":"youtube","series":"Stationary -- ATFₚ","t":4435,"cdf":1.019},{"site":"youtube","series":"Stationary -- ATFₚ","t":6575,"cdf":1.033},{"site":"youtube","series":"Stationary -- ATFₚ","t":30000,"cdf":1.047},
      {"site":"youtube","series":"Mobile -- ATFᵦ","t":7380,"cdf":0.047},{"site":"youtube","series":"Mobile -- ATFᵦ","t":7870,"cdf":0.214},{"site":"youtube","series":"Mobile -- ATFᵦ","t":8550,"cdf":0.547},{"site":"youtube","series":"Mobile -- ATFᵦ","t":9120,"cdf":0.589},{"site":"youtube","series":"Mobile -- ATFᵦ","t":10070,"cdf":0.617},{"site":"youtube","series":"Mobile -- ATFᵦ","t":11110,"cdf":0.714},{"site":"youtube","series":"Mobile -- ATFᵦ","t":11860,"cdf":0.797},{"site":"youtube","series":"Mobile -- ATFᵦ","t":14930,"cdf":0.95},{"site":"youtube","series":"Mobile -- ATFᵦ","t":16990,"cdf":1.033},{"site":"youtube","series":"Mobile -- ATFᵦ","t":30000,"cdf":1.053},
      {"site":"youtube","series":"Stationary -- ATFᵦ","t":6575,"cdf":0.033},{"site":"youtube","series":"Stationary -- ATFᵦ","t":7015,"cdf":0.103},{"site":"youtube","series":"Stationary -- ATFᵦ","t":7380,"cdf":0.353},{"site":"youtube","series":"Stationary -- ATFᵦ","t":7870,"cdf":0.686},{"site":"youtube","series":"Stationary -- ATFᵦ","t":8830,"cdf":0.783},{"site":"youtube","series":"Stationary -- ATFᵦ","t":11110,"cdf":0.881},{"site":"youtube","series":"Stationary -- ATFᵦ","t":13520,"cdf":0.964},{"site":"youtube","series":"Stationary -- ATFᵦ","t":16450,"cdf":1.033},{"site":"youtube","series":"Stationary -- ATFᵦ","t":30000,"cdf":1.047},
      {"site":"youtube","series":"Mobile -- PLT","t":4895,"cdf":0.047},{"site":"youtube","series":"Mobile -- PLT","t":7495,"cdf":0.089},{"site":"youtube","series":"Mobile -- PLT","t":8260,"cdf":0.242},{"site":"youtube","series":"Mobile -- PLT","t":8685,"cdf":0.603},{"site":"youtube","series":"Mobile -- PLT","t":9120,"cdf":0.672},{"site":"youtube","series":"Mobile -- PLT","t":10400,"cdf":0.783},{"site":"youtube","series":"Mobile -- PLT","t":11860,"cdf":0.811},{"site":"youtube","series":"Mobile -- PLT","t":13520,"cdf":0.908},{"site":"youtube","series":"Mobile -- PLT","t":17570,"cdf":1.047},{"site":"youtube","series":"Mobile -- PLT","t":30000,"cdf":1.053},
      {"site":"youtube","series":"Stationary -- PLT","t":4895,"cdf":0.042},{"site":"youtube","series":"Stationary -- PLT","t":7260,"cdf":0.075},{"site":"youtube","series":"Stationary -- PLT","t":7870,"cdf":0.325},{"site":"youtube","series":"Stationary -- PLT","t":8410,"cdf":0.631},{"site":"youtube","series":"Stationary -- PLT","t":8830,"cdf":0.797},{"site":"youtube","series":"Stationary -- PLT","t":9750,"cdf":0.908},{"site":"youtube","series":"Stationary -- PLT","t":11110,"cdf":0.978},{"site":"youtube","series":"Stationary -- PLT","t":12650,"cdf":1.033},{"site":"youtube","series":"Stationary -- PLT","t":30000,"cdf":1.047}
    ]
  },
  "columns": 2,
  "spacing": {"row": 67, "column": 52},
  "bounds": "flush",
  "concat": [
    {"width": 346, "height": 131, "layer": [
      {"data": {"name": "curves"}, "transform": [{"filter": "datum.site === 'bbc'"}],
       "mark": {"type": "line", "strokeWidth": 5.5, "strokeCap": "round", "strokeJoin": "round", "clip": true},
       "encoding": {
         "x": {"field": "t", "type": "quantitative", "scale": {"type": "log", "domain": [1000, 30000], "nice": false}, "axis": {"values": [1000,2000,3000,4000,5000,6000,7000,8000,9000,10000,20000,30000], "labels": false, "title": null, "offset": 7, "tickSize": {"condition": {"test": "datum.value === 1000 || datum.value === 10000", "value": 7}, "value": 4.5}}},
         "y": {"field": "cdf", "type": "quantitative", "scale": {"domain": [0, 1.1], "nice": false}, "axis": {"values": [0, 0.5, 1], "labelExpr": "datum.value === 0 ? '-0.0' : format(datum.value, '.1f')", "title": "CDF", "offset": 16, "tickSize": 8, "labelPadding": 8, "labelFontSize": 28, "titlePadding": 15}},
         "color": {"field": "series", "type": "nominal", "scale": {"domain": ["Mobile -- ATFₚ", "Stationary -- ATFₚ", "Mobile -- ATFᵦ", "Stationary -- ATFᵦ", "Mobile -- PLT", "Stationary -- PLT"], "range": ["#0000ff", "#ff7f0e", "#2ca02c", "#d62728", "#e377c2", "#17becf"]},
           "legend": {"title": null, "encode": {"symbols": {"update": {"shape": {"signal": "indexof(datum.value, 'Stationary') === 0 ? 'M-2.2,0H2.2M0.23,0A0.23,0.23,0,1,1,-0.23,0A0.23,0.23,0,1,1,0.23,0' : 'M-2.2,0H2.2M0.07,0A0.07,0.07,0,1,1,-0.07,0A0.07,0.07,0,1,1,0.07,0'"}}}}}}
       }},
      {"data": {"name": "sites"}, "transform": [{"filter": "datum.site === 'bbc'"}],
       "mark": {"type": "text", "fontSize": 31, "align": "center", "baseline": "alphabetic", "color": "black"},
       "encoding": {"x": {"datum": 2330}, "y": {"datum": 1.0}, "text": {"field": "site"}}}
    ]},
    {"width": 341, "height": 131, "layer": [
      {"data": {"name": "curves"}, "transform": [{"filter": "datum.site === 'facebook'"}],
       "mark": {"type": "line", "strokeWidth": 5.5, "strokeCap": "round", "strokeJoin": "round", "clip": true},
       "encoding": {
         "x": {"field": "t", "type": "quantitative", "scale": {"type": "log", "domain": [1000, 28640], "nice": false}, "axis": {"values": [1000,2000,3000,4000,5000,6000,7000,8000,9000,10000,20000], "labels": false, "title": null, "offset": 7, "tickSize": {"condition": {"test": "datum.value === 1000 || datum.value === 10000", "value": 7}, "value": 4.5}}},
         "y": {"field": "cdf", "type": "quantitative", "scale": {"domain": [0, 1.1], "nice": false}, "axis": {"values": [0, 0.5, 1], "labels": false, "title": null, "offset": 16, "tickSize": 8}},
         "color": {"field": "series", "type": "nominal", "legend": {"title": null}}
       }},
      {"data": {"name": "sites"}, "transform": [{"filter": "datum.site === 'facebook'"}],
       "mark": {"type": "text", "fontSize": 31, "align": "center", "baseline": "alphabetic", "color": "black"},
       "encoding": {"x": {"datum": 2330}, "y": {"datum": 1.0}, "text": {"field": "site"}}}
    ]},
    {"width": 346, "height": 131, "layer": [
      {"data": {"name": "curves"}, "transform": [{"filter": "datum.site === 'google'"}],
       "mark": {"type": "line", "strokeWidth": 5.5, "strokeCap": "round", "strokeJoin": "round", "clip": true},
       "encoding": {
         "x": {"field": "t", "type": "quantitative", "scale": {"type": "log", "domain": [1000, 30000], "nice": false}, "axis": {"values": [1000,2000,3000,4000,5000,6000,7000,8000,9000,10000,20000,30000], "labels": false, "title": null, "offset": 7, "tickSize": {"condition": {"test": "datum.value === 1000 || datum.value === 10000", "value": 7}, "value": 4.5}}},
         "y": {"field": "cdf", "type": "quantitative", "scale": {"domain": [0, 1.1], "nice": false}, "axis": {"values": [0, 0.5, 1], "labelExpr": "datum.value === 0 ? '-0.0' : format(datum.value, '.1f')", "title": "CDF", "offset": 16, "tickSize": 8, "labelPadding": 8, "labelFontSize": 28, "titlePadding": 15}},
         "color": {"field": "series", "type": "nominal", "legend": {"title": null}}
       }},
      {"data": {"name": "sites"}, "transform": [{"filter": "datum.site === 'google'"}],
       "mark": {"type": "text", "fontSize": 31, "align": "center", "baseline": "alphabetic", "color": "black"},
       "encoding": {"x": {"datum": 2330}, "y": {"datum": 1.0}, "text": {"field": "site"}}}
    ]},
    {"width": 341, "height": 131, "layer": [
      {"data": {"name": "curves"}, "transform": [{"filter": "datum.site === 'microsoft'"}],
       "mark": {"type": "line", "strokeWidth": 5.5, "strokeCap": "round", "strokeJoin": "round", "clip": true},
       "encoding": {
         "x": {"field": "t", "type": "quantitative", "scale": {"type": "log", "domain": [1000, 28640], "nice": false}, "axis": {"values": [1000,2000,3000,4000,5000,6000,7000,8000,9000,10000,20000], "labels": false, "title": null, "offset": 7, "tickSize": {"condition": {"test": "datum.value === 1000 || datum.value === 10000", "value": 7}, "value": 4.5}}},
         "y": {"field": "cdf", "type": "quantitative", "scale": {"domain": [0, 1.1], "nice": false}, "axis": {"values": [0, 0.5, 1], "labels": false, "title": null, "offset": 16, "tickSize": 8}},
         "color": {"field": "series", "type": "nominal", "legend": {"title": null}}
       }},
      {"data": {"name": "sites"}, "transform": [{"filter": "datum.site === 'microsoft'"}],
       "mark": {"type": "text", "fontSize": 31, "align": "center", "baseline": "alphabetic", "color": "black"},
       "encoding": {"x": {"datum": 2330}, "y": {"datum": 1.0}, "text": {"field": "site"}}}
    ]},
    {"width": 346, "height": 131, "layer": [
      {"data": {"name": "curves"}, "transform": [{"filter": "datum.site === 'reddit'"}],
       "mark": {"type": "line", "strokeWidth": 5.5, "strokeCap": "round", "strokeJoin": "round", "clip": true},
       "encoding": {
         "x": {"field": "t", "type": "quantitative", "scale": {"type": "log", "domain": [1000, 30000], "nice": false}, "axis": {"values": [1000,2000,3000,4000,5000,6000,7000,8000,9000,10000,20000,30000], "labels": false, "title": null, "offset": 7, "tickSize": {"condition": {"test": "datum.value === 1000 || datum.value === 10000", "value": 7}, "value": 4.5}}},
         "y": {"field": "cdf", "type": "quantitative", "scale": {"domain": [0, 1.1], "nice": false}, "axis": {"values": [0, 0.5, 1], "labelExpr": "datum.value === 0 ? '-0.0' : format(datum.value, '.1f')", "title": "CDF", "offset": 16, "tickSize": 8, "labelPadding": 8, "labelFontSize": 28, "titlePadding": 15}},
         "color": {"field": "series", "type": "nominal", "legend": {"title": null}}
       }},
      {"data": {"name": "sites"}, "transform": [{"filter": "datum.site === 'reddit'"}],
       "mark": {"type": "text", "fontSize": 31, "align": "center", "baseline": "alphabetic", "color": "black"},
       "encoding": {"x": {"datum": 2330}, "y": {"datum": 1.0}, "text": {"field": "site"}}}
    ]},
    {"width": 341, "height": 131, "layer": [
      {"data": {"name": "curves"}, "transform": [{"filter": "datum.site === 'wikipedia'"}],
       "mark": {"type": "line", "strokeWidth": 5.5, "strokeCap": "round", "strokeJoin": "round", "clip": true},
       "encoding": {
         "x": {"field": "t", "type": "quantitative", "scale": {"type": "log", "domain": [1000, 28640], "nice": false}, "axis": {"values": [1000,2000,3000,4000,5000,6000,7000,8000,9000,10000,20000], "labels": false, "title": null, "offset": 7, "tickSize": {"condition": {"test": "datum.value === 1000 || datum.value === 10000", "value": 7}, "value": 4.5}}},
         "y": {"field": "cdf", "type": "quantitative", "scale": {"domain": [0, 1.1], "nice": false}, "axis": {"values": [0, 0.5, 1], "labels": false, "title": null, "offset": 16, "tickSize": 8}},
         "color": {"field": "series", "type": "nominal", "legend": {"title": null}}
       }},
      {"data": {"name": "sites"}, "transform": [{"filter": "datum.site === 'wikipedia'"}],
       "mark": {"type": "text", "fontSize": 31, "align": "center", "baseline": "alphabetic", "color": "black"},
       "encoding": {"x": {"datum": 2330}, "y": {"datum": 1.0}, "text": {"field": "site"}}}
    ]},
    {"width": 346, "height": 131, "layer": [
      {"data": {"name": "curves"}, "transform": [{"filter": "datum.site === 'yahoo'"}],
       "mark": {"type": "line", "strokeWidth": 5.5, "strokeCap": "round", "strokeJoin": "round", "clip": true},
       "encoding": {
         "x": {"field": "t", "type": "quantitative", "scale": {"type": "log", "domain": [1000, 30000], "nice": false}, "axis": {"values": [1000,2000,3000,4000,5000,6000,7000,8000,9000,10000,20000,30000], "labelExpr": "datum.value === 1000 || datum.value === 10000 ? format(datum.value, 'd') : ''", "labelFlush": false, "labelOverlap": false, "labelFontSize": 25, "labelPadding": 12, "title": "Time (ms)", "titlePadding": 8, "offset": 7, "tickSize": {"condition": {"test": "datum.value === 1000 || datum.value === 10000", "value": 7}, "value": 4.5}}},
         "y": {"field": "cdf", "type": "quantitative", "scale": {"domain": [0, 1.1], "nice": false}, "axis": {"values": [0, 0.5, 1], "labelExpr": "datum.value === 0 ? '-0.0' : format(datum.value, '.1f')", "title": "CDF", "offset": 16, "tickSize": 8, "labelPadding": 8, "labelFontSize": 28, "titlePadding": 15}},
         "color": {"field": "series", "type": "nominal", "legend": {"title": null}}
       }},
      {"data": {"name": "sites"}, "transform": [{"filter": "datum.site === 'yahoo'"}],
       "mark": {"type": "text", "fontSize": 31, "align": "center", "baseline": "alphabetic", "color": "black"},
       "encoding": {"x": {"datum": 2330}, "y": {"datum": 1.0}, "text": {"field": "site"}}}
    ]},
    {"width": 341, "height": 131, "layer": [
      {"data": {"name": "curves"}, "transform": [{"filter": "datum.site === 'youtube'"}],
       "mark": {"type": "line", "strokeWidth": 5.5, "strokeCap": "round", "strokeJoin": "round", "clip": true},
       "encoding": {
         "x": {"field": "t", "type": "quantitative", "scale": {"type": "log", "domain": [1000, 28640], "nice": false}, "axis": {"values": [1000,2000,3000,4000,5000,6000,7000,8000,9000,10000,20000], "labelExpr": "datum.value === 1000 || datum.value === 10000 ? format(datum.value, 'd') : ''", "labelFlush": false, "labelOverlap": false, "labelFontSize": 25, "labelPadding": 12, "title": "Time (ms)", "titlePadding": 8, "offset": 7, "tickSize": {"condition": {"test": "datum.value === 1000 || datum.value === 10000", "value": 7}, "value": 4.5}}},
         "y": {"field": "cdf", "type": "quantitative", "scale": {"domain": [0, 1.1], "nice": false}, "axis": {"values": [0, 0.5, 1], "labels": false, "title": null, "offset": 16, "tickSize": 8}},
         "color": {"field": "series", "type": "nominal", "legend": {"title": null}}
       }},
      {"data": {"name": "sites"}, "transform": [{"filter": "datum.site === 'youtube'"}],
       "mark": {"type": "text", "fontSize": 31, "align": "center", "baseline": "alphabetic", "color": "black"},
       "encoding": {"x": {"datum": 2330}, "y": {"datum": 1.0}, "text": {"field": "site"}}}
    ]}
  ],
  "config": {
    "font": "DejaVu Sans",
    "view": {"stroke": null},
    "axis": {"grid": false, "domainColor": "black", "domainWidth": 1.5, "tickColor": "black", "tickWidth": 1.5, "labelColor": "black", "labelFontSize": 26, "labelFont": "DejaVu Sans", "titleColor": "black", "titleFontSize": 31, "titleFontWeight": "normal", "titleFont": "DejaVu Sans"},
    "legend": {"orient": "none", "legendX": -58.5, "legendY": -181.7, "columns": 2, "padding": 0, "labelFontSize": 31, "labelFont": "DejaVu Sans", "labelColor": "black", "labelLimit": 600, "labelOffset": 42.5, "columnPadding": 59.5, "rowPadding": 20, "symbolSize": 961, "symbolStrokeWidth": 4}
  }
}
